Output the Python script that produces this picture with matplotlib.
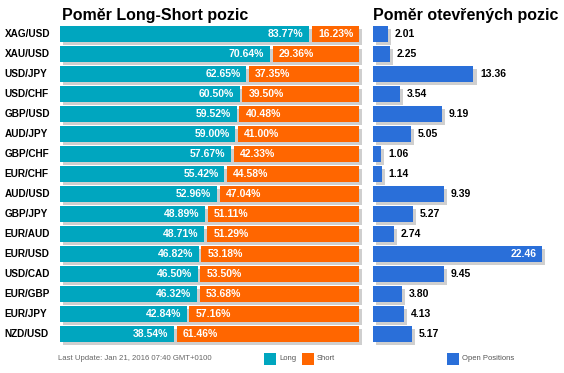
import matplotlib
matplotlib.use("Agg")
import matplotlib.pyplot as plt
import matplotlib.patheffects as pe
from matplotlib.patches import Rectangle

pairs = ["XAG/USD", "XAU/USD", "USD/JPY", "USD/CHF", "GBP/USD", "AUD/JPY", "GBP/CHF", "EUR/CHF",
         "AUD/USD", "GBP/JPY", "EUR/AUD", "EUR/USD", "USD/CAD", "EUR/GBP", "EUR/JPY", "NZD/USD"]
long_pct = [83.77, 70.64, 62.65, 60.50, 59.52, 59.00, 57.67, 55.42,
            52.96, 48.89, 48.71, 46.82, 46.50, 46.32, 42.84, 38.54]
short_pct = [16.23, 29.36, 37.35, 39.50, 40.48, 41.00, 42.33, 44.58,
             47.04, 51.11, 51.29, 53.18, 53.50, 53.68, 57.16, 61.46]
open_pos = [2.01, 2.25, 13.36, 3.54, 9.19, 5.05, 1.06, 1.14,
            9.39, 5.27, 2.74, 22.46, 9.45, 3.80, 4.13, 5.17]

title_left = "Poměr Long-Short pozic"
title_right = "Poměr otevřených pozic"
update_text = "Last Update: Jan 21, 2016 07:40 GMT+0100"

TEAL = "#00a6bf"
ORANGE = "#ff6600"
BLUE = "#2a6fd9"
SHADOW = "#cfcfcf"

W, H = 564, 373
plt.rcParams['font.family'] = ['Liberation Sans', 'DejaVu Sans']
fig = plt.figure(figsize=(W / 100, H / 100), dpi=100)
fig.patch.set_facecolor("white")

def fx(px):
    return px / W

def fy(py):
    return 1 - py / H

top_px, bot_px = 24, 344
axL = fig.add_axes([fx(60), fy(bot_px), (359 - 60) / W, (bot_px - top_px) / H])
axR = fig.add_axes([fx(373), fy(bot_px), (560 - 373) / W, (bot_px - top_px) / H])

n = len(pairs)
ys = list(range(n))
bh = 0.78
shadow = [pe.SimplePatchShadow(offset=(2.3, -2.3), shadow_rgbFace=SHADOW, alpha=1.0), pe.Normal()]

for ax in (axL, axR):
    ax.set_ylim(n - 0.5, -0.5)
    ax.axis("off")

axL.set_xlim(0, 100)
gap = 0.9
for i, y in enumerate(ys):
    tot = long_pct[i] + short_pct[i]
    bg = axL.barh(y, tot, height=bh, left=0, color="white", clip_on=False)
    for p in bg:
        p.set_path_effects([pe.SimplePatchShadow(offset=(2.3, -2.3), shadow_rgbFace=SHADOW, alpha=1.0)])
    axL.barh(y, long_pct[i] - gap / 2, height=bh, left=0, color=TEAL, clip_on=False)
    axL.barh(y, short_pct[i] - gap / 2, height=bh, left=long_pct[i] + gap / 2, color=ORANGE, clip_on=False)
    axL.annotate(f"{long_pct[i]:.2f}%", xy=(long_pct[i], y), xytext=(-5, 0), textcoords="offset points",
                 ha="right", va="center", color="white", fontsize=7.5, fontweight="bold")
    axL.annotate(f"{short_pct[i]:.2f}%", xy=(long_pct[i], y), xytext=(5.5, 0), textcoords="offset points",
                 ha="left", va="center", color="white", fontsize=7.5, fontweight="bold")
    axL.annotate(pairs[i], xy=(0, y), xycoords=("axes fraction", "data"), xytext=(-40, 0),
                 textcoords="offset points", ha="left", va="center", color="black",
                 fontsize=7.2, fontweight="bold")

xmaxR = 187 / 7.52
axR.set_xlim(0, xmaxR)
bars = axR.barh(ys, open_pos, height=bh, color=BLUE, clip_on=False)
for b in bars:
    b.set_path_effects(shadow)
for i, y in enumerate(ys):
    v = open_pos[i]
    if v > xmaxR * 0.8:
        axR.annotate(f"{v:.2f}", xy=(v, y), xytext=(-4, 0), textcoords="offset points",
                     ha="right", va="center", color="white", fontsize=7.5, fontweight="bold")
    else:
        axR.annotate(f"{v:.2f}", xy=(v, y), xytext=(5, 0), textcoords="offset points",
                     ha="left", va="center", color="black", fontsize=7.5, fontweight="bold")

fig.text(fx(62), fy(20), title_left, ha="left", va="baseline", fontsize=11.5, fontweight="bold")
fig.text(fx(373), fy(20), title_right, ha="left", va="baseline", fontsize=11.5, fontweight="bold")

fig.text(fx(58), fy(359), update_text, ha="left", va="center", fontsize=5.6, color="#666666")

def legend_item(x, label, color):
    fig.patches.append(Rectangle((fx(x), fy(365)), 12 / W, 12 / H, transform=fig.transFigure,
                                 facecolor=color, edgecolor="none"))
    fig.text(fx(x + 15), fy(358), label, ha="left", va="center", fontsize=5.5, color="#555555")

legend_item(264, "Long", TEAL)
legend_item(302, "Short", ORANGE)
legend_item(447, "Open Positions", BLUE)

fig.savefig("out.png", dpi=100, facecolor="white")
